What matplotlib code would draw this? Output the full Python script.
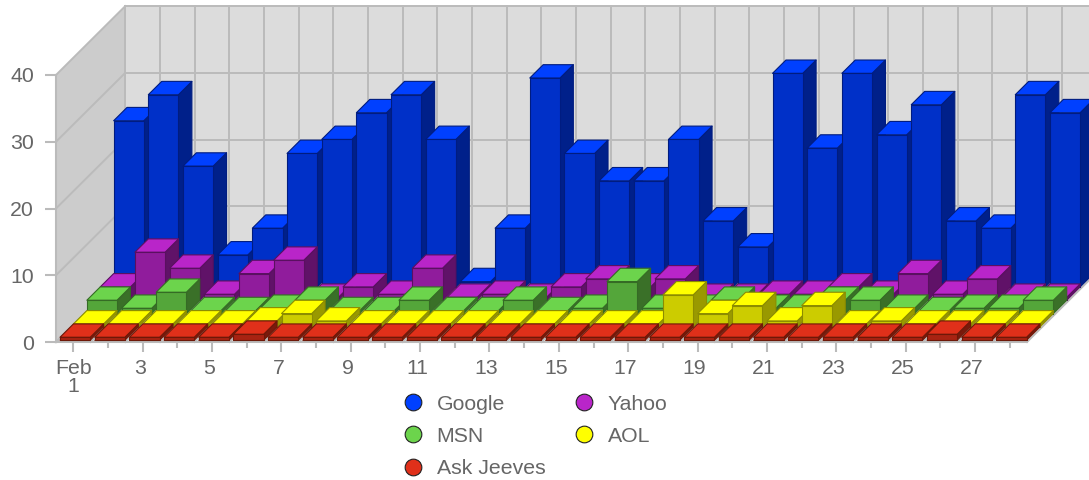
import matplotlib
matplotlib.use('Agg')
import matplotlib.pyplot as plt
from matplotlib.lines import Line2D
from matplotlib.patches import Polygon
from matplotlib.transforms import ScaledTranslation

plt.rcParams['font.family'] = ['Liberation Sans', 'DejaVu Sans']

# data
days = list(range(1, 29))
google = [24.9, 28.8, 18.1, 4.8, 8.8, 20.0, 22.1, 26.1, 28.8, 22.1, 0.8, 8.8, 31.3, 20.0,
          15.9, 15.9, 22.1, 9.9, 6.0, 32.0, 20.8, 32.0, 22.8, 27.3, 9.9, 8.8, 28.8, 26.1]
yahoo = [2.0, 7.2, 4.8, 0.9, 4.0, 6.0, 0.45, 2.0, 0.9, 4.8, 0.45, 0.9, 0.45, 2.0,
         3.2, 2.0, 3.2, 0.45, 0.45, 0.9, 0.9, 2.0, 0.9, 4.0, 0.9, 3.2, 0.45, 0.45]
msn = [2.0, 0.8, 3.2, 0.45, 0.45, 0.8, 2.0, 0.45, 0.45, 2.0, 0.45, 0.45, 2.0, 0.45,
       0.8, 4.8, 0.8, 0.8, 2.0, 0.8, 0.8, 2.0, 2.0, 0.8, 0.45, 0.8, 0.8, 2.0]
aol = [0.45, 0.45, 0.45, 0.45, 0.45, 0.9, 2.0, 0.9, 0.45, 0.45, 0.45, 0.45, 0.45, 0.45,
       0.45, 0.45, 0.45, 4.8, 2.0, 3.2, 0.9, 3.2, 0.45, 0.9, 0.45, 0.45, 0.45, 0.45]
ask_jeeves = [0.45, 0.45, 0.45, 0.45, 0.45, 0.9, 0.45, 0.45, 0.45, 0.45, 0.45, 0.45, 0.45, 0.45,
              0.45, 0.45, 0.45, 0.45, 0.45, 0.45, 0.45, 0.45, 0.45, 0.45, 0.45, 0.9, 0.45, 0.45]
y_ticks = [0, 10, 20, 30, 40]

# name, values, top, front, side, edge  (front row first)
series = [
    ('Ask Jeeves', ask_jeeves, '#E0301A', '#A82312', '#7A1A0C', '#6E1808'),
    ('AOL', aol, '#FFFF00', '#CCCC00', '#999900', '#8C8C00'),
    ('MSN', msn, '#6CD44C', '#54A63A', '#3A7028', '#356B25'),
    ('Yahoo', yahoo, '#B925C9', '#901C9C', '#601268', '#5A1060'),
    ('Google', google, '#0040FF', '#0030C8', '#00208A', '#001C80'),
]

W, H = 1089, 480
fig = plt.figure(figsize=(W / 100, H / 100), dpi=100)
ax = fig.add_axes([56 / W, 1 - 342 / H, 971 / W, 267 / H])
ax.set_xlim(0.5, 28.5)
ax.set_ylim(0, 40)

# one row of depth, in data units
day_px = 971 / 28
val_px = 267 / 40
dx = 13.4 / day_px
dy = 13.33 / val_px
back = 5.17


def project(day, value, depth):
    return (day + depth * dx, value + depth * dy)


def face(points, color, edge='none', lw=0.0, z=1):
    ax.add_patch(Polygon([project(*p) for p in points], closed=True, facecolor=color,
                         edgecolor=edge, linewidth=lw, clip_on=False, zorder=z,
                         joinstyle='round'))


lo, hi = days[0] - 0.5, days[-1] + 0.5
top = y_ticks[-1]

# walls and floor
face([(lo, 0, 0), (lo, top, 0), (lo, top, back), (lo, 0, back)], '#CCCCCC')
face([(lo, 0, back), (lo, top, back), (hi, top, back), (hi, 0, back)], '#DCDCDC')
face([(lo, 0, 0), (lo, 0, back), (hi, 0, back), (hi, 0, 0)], '#F2F2F2')

grid = dict(color='#BBBBBB', lw=1.4, clip_on=False, zorder=1.5, solid_capstyle='projecting')
for i in range(len(days) + 1):
    d = lo + i
    ax.plot(*zip(project(d, 0, 0), project(d, 0, back)), **grid)
    ax.plot(*zip(project(d, 0, back), project(d, top, back)), **grid)
for v in y_ticks:
    ax.plot(*zip(project(lo, v, 0), project(lo, v, back)), **grid)
    ax.plot(*zip(project(lo, v, back), project(hi, v, back)), **grid)

# bars, back row first, left to right
inset = 0.066
bar_w = 0.87
for row in range(len(series) - 1, -1, -1):
    name, values, c_top, c_front, c_side, c_edge = series[row]
    d0 = row + 0.13
    d1 = d0 + 1
    for day, v in zip(days, values):
        x0 = day - 0.5 + inset
        x1 = x0 + bar_w
        style = dict(edge=c_edge, lw=0.8, z=3)
        face([(x0, 0, d0), (x1, 0, d0), (x1, 0, d1), (x1, v, d1), (x1, v, d0)], c_side, **style)
        face([(x0, v, d0), (x1, v, d0), (x1, v, d1), (x0, v, d1)], c_top, **style)
        face([(x0, 0, d0), (x1, 0, d0), (x1, v, d0), (x0, v, d0)], c_front, **style)

# axes
for s in ['top', 'right']:
    ax.spines[s].set_visible(False)
for s in ['left', 'bottom']:
    ax.spines[s].set_color('#BBBBBB')
    ax.spines[s].set_linewidth(1.5)
ax.patch.set_visible(False)
ax.set_yticks(y_ticks)
ax.set_xticks(days[::2])
ax.set_xticks(days[1::2], minor=True)
ax.set_xticklabels(['Feb\n1'] + [str(d) for d in days[2::2]], linespacing=0.95)
ax.tick_params(axis='y', length=8, width=1.5, color='#BBBBBB', labelcolor='#666666',
               labelsize=15.3, pad=8)
ax.tick_params(axis='x', which='major', length=7.5, width=1.5, color='#BBBBBB', labelcolor='#666666',
               labelsize=15.3, pad=4.7)
ax.tick_params(axis='x', which='minor', length=4, width=1.5, color='#BBBBBB')
shift = ScaledTranslation(-3 / 100, 0, fig.dpi_scale_trans)
for lbl in ax.get_xticklabels()[1:]:
    lbl.set_transform(lbl.get_transform() + shift)

# legend, column by column
order = [4, 2, 0, 3, 1]
handles = [Line2D([], [], ls='none', marker='o', ms=12, mfc=series[i][2], mec='#222222', mew=0.8,
                  label=series[i][0]) for i in order]
leg = fig.legend(handles=handles, ncol=2, frameon=False, fontsize=15.3, labelcolor='#666666',
                 loc='upper left', bbox_to_anchor=(390 / W, 1 - 384 / H), borderpad=0,
                 handlelength=1.2, handletextpad=0.5, labelspacing=0.62, columnspacing=1.22)

fig.savefig('out.png', dpi=100)
